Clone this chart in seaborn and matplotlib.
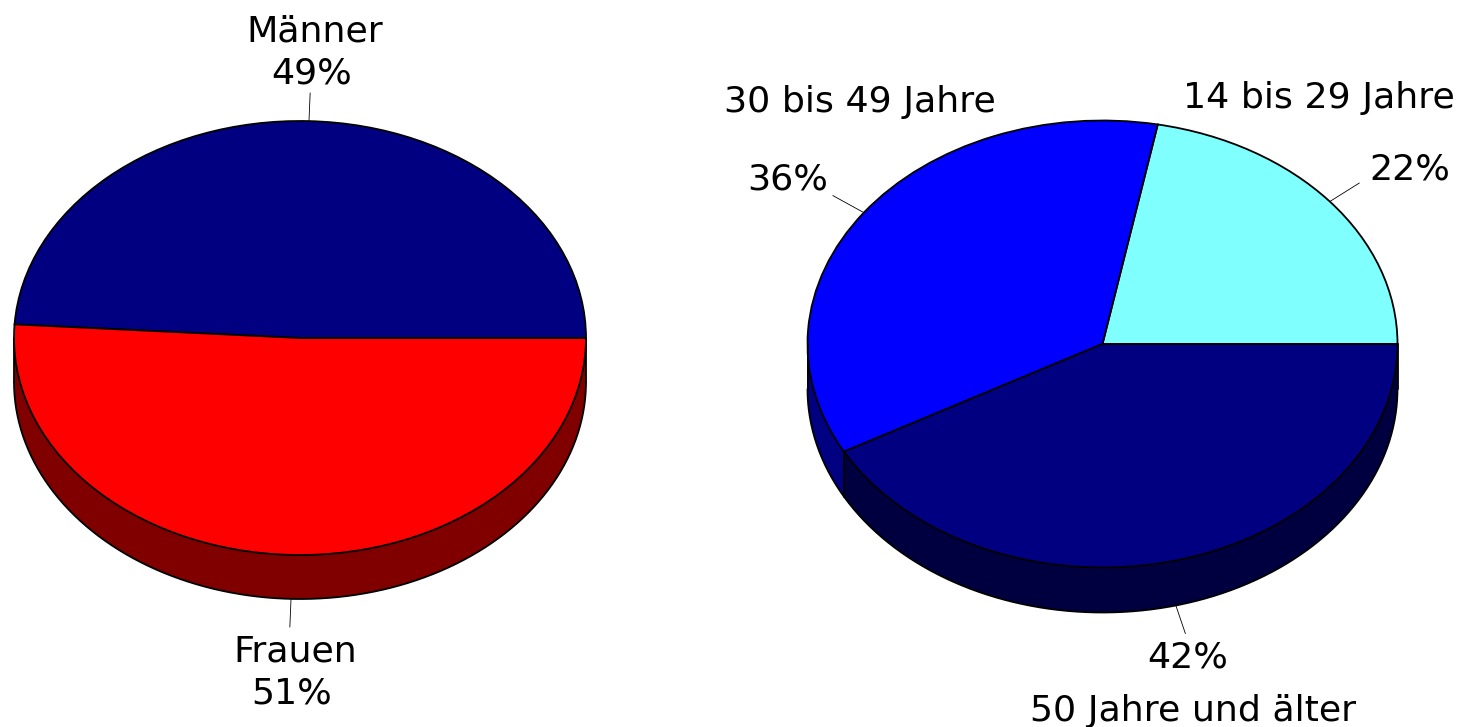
import numpy as np
import matplotlib
matplotlib.use('Agg')
import matplotlib.pyplot as plt
import seaborn as sns

### data
gender_labels = ['Männer', 'Frauen']
gender_values = [49, 51]
age_labels = ['14 bis 29 Jahre', '30 bis 49 Jahre', '50 Jahre und älter']
age_values = [22, 36, 42]

### colours: top face / side of the cake
gender_top = ['#000080', '#ff0000']
gender_side = ['#000040', '#800000']
age_top = ['#80ffff', '#0000ff', '#000080']
age_side = ['#408080', '#000080', '#000040']

W, H = 1463, 727
sns.set_theme(style='white')
plt.rcParams['font.family'] = ['DejaVu Sans']
fig = plt.figure(figsize=(W / 100, H / 100), dpi=100)


def cake(values, top, side, cx, cy, a, b, depth):
    # full figure axes, one data unit = one pie radius (a px wide, b px high)
    ax = fig.add_axes([0, 0, 1, 1], facecolor='none')
    d = depth / b

    # side of the cake: the same pie stacked from bottom to top
    for off in np.arange(depth, 0, -1) / b:
        ax.pie(values, colors=side, startangle=0, counterclock=True,
               center=(0, -off), radius=1, wedgeprops={'linewidth': 0})
    ax.pie(values, colors=top, startangle=0, counterclock=True,
           wedgeprops={'edgecolor': 'black', 'linewidth': 1.3})

    ax.set_aspect('auto')
    ax.set_xlim((0 - cx) / a, (W - cx) / a)
    ax.set_ylim((cy - H) / b, cy / b)
    ax.axis('off')
    sns.despine(ax=ax, left=True, bottom=True)

    # lower rim and the visible vertical edges
    t = np.radians(np.linspace(180, 360, 200))
    ax.plot(np.cos(t), np.sin(t) - d, c='black', lw=1.3)
    bounds = np.cumsum(values) / np.sum(values) * 360
    for ang in [180, 360] + [x for x in bounds if 180 < x < 360]:
        r = np.radians(ang)
        ax.plot([np.cos(r)] * 2, [np.sin(r), np.sin(r) - d], c='black', lw=1.3)

    # leader lines at the middle of each slice
    starts = np.concatenate([[0], bounds[:-1]])
    for s, e in zip(starts, bounds):
        r = np.radians((s + e) / 2)
        x, y = np.cos(r), np.sin(r)
        low = d if y < 0 else 0
        ax.plot([x, 1.13 * x], [y - low, 1.13 * y - low], c='black', lw=0.6)
    return ax


cake(gender_values, gender_top, gender_side, 300, 338, 286, 217, 44)
cake(age_values, age_top, age_side, 1102.5, 344, 295, 223.5, 45)


def label(txt, x, y):
    fig.text(x / W, 1 - y / H, txt, ha='center', va='baseline', fontsize=26.2, color='black')


label(gender_labels[0], 315, 42)
label(f'{gender_values[0]}%', 312, 84)
label(gender_labels[1], 295, 661)
label(f'{gender_values[1]}%', 292, 704)
label(age_labels[0], 1319, 108)
label(f'{age_values[0]}%', 1410, 179)
label(age_labels[1], 860, 112)
label(f'{age_values[1]}%', 788, 190)
label(f'{age_values[2]}%', 1188, 668)
label(age_labels[2], 1193, 721)

plt.savefig('out.png', dpi=100)
